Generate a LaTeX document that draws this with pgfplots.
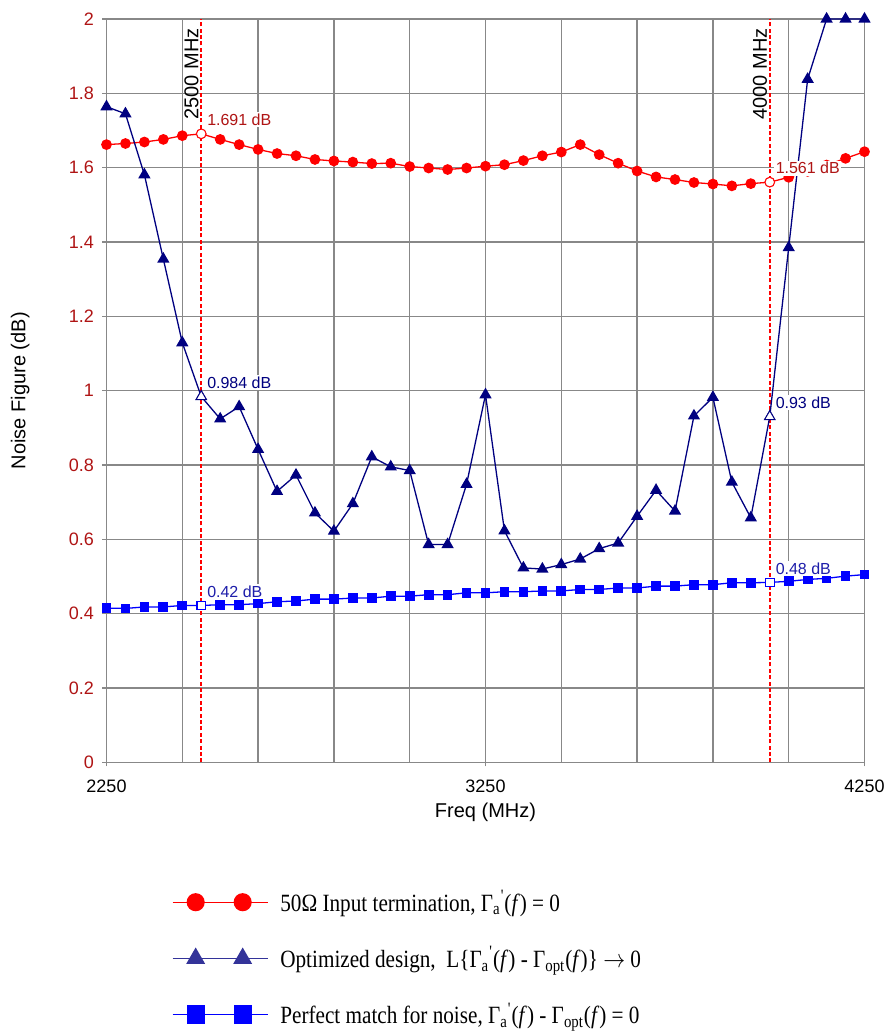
\documentclass[border=0pt]{standalone}
\usepackage{pgfplots}
\pgfplotsset{compat=1.18}
\usepackage{pgfplotstable}
\usepackage{graphicx}
\usepackage{fontspec}
\setmainfont{Liberation Sans}
\newfontfamily\serif{Liberation Serif}

\definecolor{tickred}{RGB}{175,20,20}
\definecolor{navyser}{RGB}{0,0,128}
\definecolor{legnavy}{RGB}{51,51,153}
\definecolor{sqlab}{RGB}{30,30,170}
\definecolor{gridgray}{RGB}{136,136,136}
\definecolor{markred}{RGB}{255,0,0}

\newcommand{\Ga}{Γ\textsubscript{a}\textsuperscript{'}}
\newcommand{\Gopt}{Γ\textsubscript{opt}}
\newcommand{\leg}[1]{\scalebox{1}[1.17]{#1}}

% f, 50 ohm termination, optimized design, perfect match
\pgfplotstableread{
f    a     b     c
2250 1.662 1.764 0.415
2300 1.665 1.745 0.414
2350 1.669 1.581 0.418
2400 1.676 1.354 0.418
2450 1.686 1.129 0.422
2500 1.691 0.984 0.422
2550 1.676 0.924 0.424
2600 1.662 0.957 0.424
2650 1.649 0.842 0.427
2700 1.638 0.729 0.432
2750 1.632 0.773 0.434
2800 1.622 0.671 0.439
2850 1.618 0.622 0.439
2900 1.615 0.696 0.442
2950 1.611 0.822 0.442
3000 1.612 0.795 0.447
3050 1.603 0.785 0.447
3100 1.599 0.586 0.451
3150 1.595 0.586 0.451
3200 1.599 0.748 0.456
3250 1.604 0.989 0.456
3300 1.608 0.623 0.459
3350 1.619 0.523 0.459
3400 1.632 0.520 0.461
3450 1.642 0.532 0.461
3500 1.662 0.547 0.465
3550 1.635 0.575 0.465
3600 1.612 0.590 0.469
3650 1.591 0.662 0.469
3700 1.575 0.732 0.474
3750 1.568 0.676 0.474
3800 1.560 0.932 0.478
3850 1.556 0.982 0.478
3900 1.551 0.754 0.483
3950 1.557 0.658 0.483
4000 1.561 0.930 0.484
4050 1.574 1.385 0.487
4100 1.590 1.838 0.492
4150 1.607 2.000 0.495
4200 1.625 2.000 0.501
4250 1.643 2.000 0.505
}\nfdata

\begin{document}
\begin{tikzpicture}
\path[use as bounding box] (-53.25pt,-134.85pt) rectangle (390.85pt,381.15pt);
\begin{axis}[
    scale only axis,
    width=379pt, height=371.65pt,
    xmin=2250, xmax=4250, ymin=0, ymax=2,
    xtick={2250,3250,4250},
    minor xtick={2450,2650,2850,3050,3450,3650,3850,4050},
    ytick={0,0.2,0.4,0.6,0.8,1,1.2,1.4,1.6,1.8,2},
    xmajorgrids, xminorgrids, ymajorgrids,
    grid style={gridgray, line width=0.65pt},
    minor grid style={gridgray, line width=0.65pt},
    axis line style={gridgray, line width=0.65pt},
    tick pos=left, tick align=outside,
    major tick length=2pt, minor tick length=0pt,
    tick style={gridgray, line width=0.65pt},
    /pgf/number format/assume math mode=true,
    /pgf/number format/1000 sep={},
    yticklabel style={color=tickred, font=\fontsize{9}{11}\selectfont,
        /pgf/number format/fixed, /pgf/number format/precision=1, xshift=-0.8pt},
    xticklabel style={font=\fontsize{9}{11}\selectfont, yshift=-3.5pt},
    xlabel={Freq (MHz)}, ylabel={Noise Figure (dB)},
    label style={font=\fontsize{9}{11}\selectfont},
    every axis x label/.style={at={(axis description cs:0.5,-0.067)}, anchor=center},
    every axis y label/.style={at={(axis description cs:-0.1137,0.5)}, rotate=90, anchor=center},
    legend image code/.code={
        \draw[#1, mark indices={2,3}] plot coordinates {(0pt,0pt) (11.5pt,0pt) (35pt,0pt) (47.5pt,0pt)};
    },
    legend style={at={(axis description cs:0.078,-0.161)}, anchor=north west,
        draw=none, fill=none, font=\serif\fontsize{10.6}{13}\selectfont,
        row sep=12.25pt, column sep=4pt},
    legend cell align=left,
]
% legend
\addlegendimage{red, line width=0.65pt, mark=*, mark size=4.2pt}
\addlegendentry{\leg{50Ω Input termination, \Ga(\textit{f}) = 0}}
\addlegendimage{legnavy, line width=0.65pt, mark=triangle*, mark size=4.8pt}
\addlegendentry{\leg{Optimized design,\enspace L\{\Ga(\textit{f}) - \Gopt(\textit{f})\} $\rightarrow$ 0}}
\addlegendimage{blue, line width=0.65pt, mark=square*, mark size=4.2pt}
\addlegendentry{\leg{Perfect match for noise, \Ga(\textit{f}) - \Gopt(\textit{f}) = 0}}

% marker lines at 2500 and 4000 MHz
\draw[markred, line width=0.75pt, dash pattern=on 2pt off 1.2pt] (axis cs:2500,0) -- (axis cs:2500,2);
\draw[markred, line width=0.75pt, dash pattern=on 2pt off 1.2pt] (axis cs:4000,0) -- (axis cs:4000,2);

\addplot[red, line width=0.65pt, mark=*, mark size=2.35pt, forget plot] table[x=f, y=a] {\nfdata};
\addplot[navyser, line width=0.65pt, mark=triangle*, mark size=2.9pt, forget plot] table[x=f, y=b] {\nfdata};
\addplot[blue, line width=0.65pt, mark=square*, mark size=2.1pt, forget plot] table[x=f, y=c] {\nfdata};

% open markers at the two frequencies
\addplot[only marks, red, mark=*, mark size=2.35pt, mark options={fill=white}, forget plot] coordinates {(2500,1.691) (4000,1.561)};
\addplot[only marks, navyser, mark=triangle*, mark size=2.9pt, mark options={fill=white}, forget plot] coordinates {(2500,0.984) (4000,0.930)};
\addplot[only marks, blue, mark=square*, mark size=2.1pt, mark options={fill=white}, forget plot] coordinates {(2500,0.422) (4000,0.484)};

\coordinate (t1) at (axis cs:2500,2);
\coordinate (t2) at (axis cs:4000,2);
\coordinate (r1) at (axis cs:2500,1.691);
\coordinate (r2) at (axis cs:4000,1.561);
\coordinate (n1) at (axis cs:2500,0.984);
\coordinate (n2) at (axis cs:4000,0.930);
\coordinate (s1) at (axis cs:2500,0.422);
\coordinate (s2) at (axis cs:4000,0.484);
\end{axis}

\node[yshift=-4pt, xshift=-0.6pt, rotate=90, anchor=south east, font=\fontsize{10}{12}\selectfont, inner sep=0.5pt] at (t1) {2500 MHz};
\node[yshift=-4pt, xshift=-0.6pt, rotate=90, anchor=south east, font=\fontsize{10}{12}\selectfont, inner sep=0.5pt] at (t2) {4000 MHz};

\begin{scope}[every node/.style={anchor=west, fill=white, inner sep=0.8pt, font=\fontsize{8}{10}\selectfont, xshift=2pt, yshift=7pt}]
\node[text=tickred] at (r1) {1.691 dB};
\node[text=tickred] at (r2) {1.561 dB};
\node[text=navyser] at (n1) {0.984 dB};
\node[text=navyser] at (n2) {0.93 dB};
\node[text=sqlab] at (s1) {0.42 dB};
\node[text=sqlab] at (s2) {0.48 dB};
\end{scope}
\end{tikzpicture}
\end{document}
